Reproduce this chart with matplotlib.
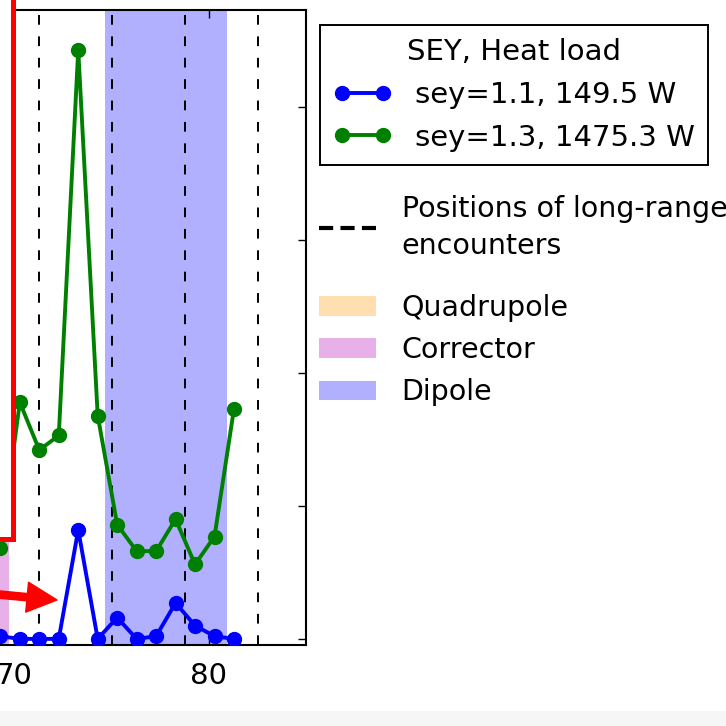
import matplotlib
matplotlib.use('Agg')
import matplotlib.pyplot as plt
import matplotlib.patches as mpatches
from matplotlib.lines import Line2D

# slice positions [m] and heat load per slice for the two SEY values
s_pos = [69.3, 70.3, 71.3, 72.3, 73.3, 74.3, 75.3, 76.3, 77.3, 78.3, 79.3, 80.3, 81.3]
hl_sey11 = [0.1, 0.0, 0.0, 0.0, 4.1, 0.0, 0.8, 0.0, 0.1, 1.35, 0.5, 0.1, 0.0]
hl_sey13 = [3.4, 8.9, 7.1, 7.65, 22.15, 8.4, 4.3, 3.3, 3.3, 4.5, 2.8, 3.85, 8.65]
labels = ['sey=1.1, 149.5 W', 'sey=1.3, 1475.3 W']

lr_encounters = [71.29, 75.03, 78.77, 82.51]
dipole = (74.66, 80.92)
corrector = (68.0, 69.75)

col_quad = '#ffdfb0'
col_corr = '#e8b0e8'
col_dip = '#b0b0ff'

fs = 21
plt.rcParams['font.family'] = 'DejaVu Sans'

fig = plt.figure(figsize=(7.26, 7.26), dpi=100)
ax = fig.add_axes([-0.2489, 0.11157, 0.6704, 0.87466])

ax.axvspan(corrector[0], corrector[1], color=col_corr, lw=0, zorder=0)
ax.axvspan(dipole[0], dipole[1], color=col_dip, lw=0, zorder=0)
for xv in lr_encounters:
    ax.axvline(xv, color='k', lw=1.4, ls=(0, (5, 6)), zorder=1)

l1, = ax.plot(s_pos, hl_sey11, '-o', color='b', lw=2.8, ms=10, zorder=3)
l2, = ax.plot(s_pos, hl_sey13, '-o', color='g', lw=2.8, ms=10, zorder=3)

ax.set_xlim(60, 85)
ax.set_ylim(-0.23, 23.65)
ax.set_xticks([60, 70, 80])
ax.set_yticks([0, 5, 10, 15, 20])
ax.set_yticklabels([])
ax.tick_params(direction='in', top=True, right=True, length=6, width=1,
               labelsize=fs, pad=12)
for sp in ax.spines.values():
    sp.set_linewidth(1.5)

leg1 = fig.legend([l1, l2], labels, title='SEY, Heat load', loc='upper left',
                  bbox_to_anchor=(320 / 726, 1 - 25 / 726), borderaxespad=0,
                  fontsize=fs, title_fontsize=fs, numpoints=2, handlelength=2.0,
                  handletextpad=0.8, fancybox=False, edgecolor='k',
                  framealpha=1, labelspacing=0.5, borderpad=0.46)
leg1.get_frame().set_linewidth(1.4)

lr_handle = Line2D([], [], color='k', lw=3, ls=(0, (3.4, 1.75)))
leg2 = fig.legend([lr_handle], ['Positions of long-range\nencounters'], loc='upper left',
                  bbox_to_anchor=(319 / 726, 1 - 195 / 726), borderaxespad=0,
                  fontsize=20.5, frameon=False, handlelength=2.0, handletextpad=0.9,
                  borderpad=0)
leg2.get_texts()[0].set_linespacing(1.4)

patches = [mpatches.Patch(color=c, lw=0) for c in (col_quad, col_corr, col_dip)]
fig.legend(patches, ['Quadrupole', 'Corrector', 'Dipole'], loc='upper left',
           bbox_to_anchor=(319 / 726, 1 - 294 / 726), borderaxespad=0,
           fontsize=20.5, frameon=False, handlelength=2.0, handletextpad=0.9,
           borderpad=0, labelspacing=0.5)

# highlight box and arrow
box = mpatches.Rectangle((-0.2, 1 - 539 / 726), 0.2 + 12.5 / 726, 1.0,
                         transform=fig.transFigure, facecolor='white',
                         edgecolor='red', lw=3.6, zorder=10)
fig.add_artist(box)
arrow = mpatches.FancyArrowPatch((-60 / 726, 1 - 589 / 726), (57 / 726, 1 - 600 / 726),
                                 transform=fig.transFigure, color='red',
                                 arrowstyle='simple,head_length=0.9,head_width=0.9,tail_width=0.22',
                                 mutation_scale=24, shrinkA=0, shrinkB=0, zorder=10)
fig.add_artist(arrow)

strip = mpatches.Rectangle((0, 0), 1, 15 / 726, transform=fig.transFigure,
                           facecolor='#f6f6f6', lw=0, zorder=-1)
fig.add_artist(strip)

fig.savefig('out.png', dpi=100)
